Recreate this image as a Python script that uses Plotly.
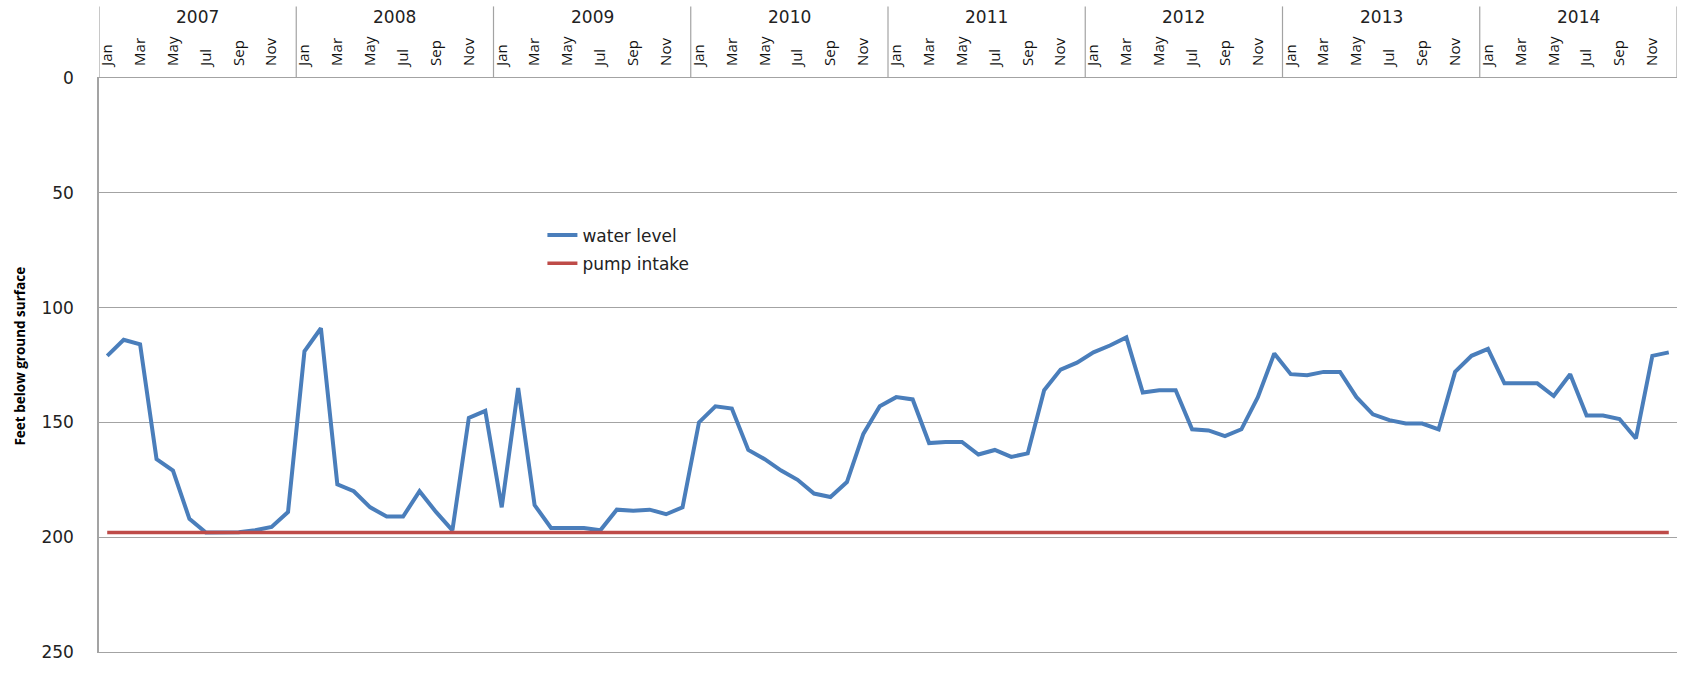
import plotly.graph_objects as go

# Monthly series, Jan 2007 - Dec 2014
years = ["2007", "2008", "2009", "2010", "2011", "2012", "2013", "2014"]
month_names = ["Jan", "Feb", "Mar", "Apr", "May", "Jun",
               "Jul", "Aug", "Sep", "Oct", "Nov", "Dec"]

# Depth to water, feet below ground surface
water_level = [
    121, 114, 116, 166, 171, 192, 198, 198, 197.8, 197, 195.5, 189,   # 2007
    119, 109, 177, 180, 187, 191, 191, 180, 189, 197, 148, 145,     # 2008
    187, 135, 186, 196, 196, 196, 197, 188, 188.5, 188, 190, 187,   # 2009
    150, 143, 144, 162, 166, 171, 175, 181, 182.5, 176, 155, 143,   # 2010
    139, 140, 159, 158.5, 158.5, 164, 162, 165, 163.5, 136, 127, 124,  # 2011
    119.5, 116.5, 113, 137, 136, 136, 153, 153.5, 156, 153, 139, 120,  # 2012
    129, 129.5, 128, 128, 139, 146.5, 149, 150.5, 150.5, 153, 128, 121,  # 2013
    118, 133, 133, 133, 138.5, 129, 147, 147, 148.5, 157, 121, 119.5,  # 2014
]
pump_intake = [198] * 96

x_idx = list(range(len(water_level)))
tick_idx = x_idx[::2]
tick_text = [month_names[i % 12] for i in tick_idx]

grid_col = "#a3a3a3"

fig = go.Figure()
fig.add_trace(go.Scatter(
    x=x_idx, y=water_level, mode="lines", name="water level",
    line=dict(color="#4a7ebb", width=4), legendgroup="a",
))
fig.add_trace(go.Scatter(
    x=x_idx, y=pump_intake, mode="lines", name="pump intake",
    line=dict(color="#be4b48", width=3.5), legendgroup="b",
))

# Year dividers in the header band above the plot
shapes = []
for k in range(len(years) + 1):
    shapes.append(dict(
        type="line", xref="x", yref="paper",
        x0=-0.5 + 12 * k, x1=-0.5 + 12 * k, y0=1, y1=1.1247,
        line=dict(color=grid_col, width=1.2),
    ))

annotations = []
for k, yr in enumerate(years):
    annotations.append(dict(
        x=5.5 + 12 * k, y=1.106, xref="x", yref="paper",
        text=yr, showarrow=False, xanchor="center", yanchor="middle",
        font=dict(family="DejaVu Sans", size=17, color="#222222"),
    ))
annotations.append(dict(
    x=-0.0502, y=0.516, xref="paper", yref="paper",
    text="<b>Feet below ground surface</b>", showarrow=False,
    textangle=-90, xanchor="center", yanchor="middle",
    font=dict(family="Open Sans", size=13.5, color="#000000"),
))

fig.update_layout(
    width=1688, height=673,
    margin=dict(l=99, r=11, t=78, b=12),
    paper_bgcolor="white", plot_bgcolor="white",
    shapes=shapes, annotations=annotations,
    legend=dict(
        x=0.281, y=0.757, xanchor="left", yanchor="top",
        bgcolor="rgba(0,0,0,0)", tracegroupgap=3,
        font=dict(family="DejaVu Sans", size=17, color="#222222"),
    ),
    xaxis=dict(
        range=[-0.5, 95.5], side="top",
        tickvals=tick_idx, ticktext=tick_text, tickangle=-90,
        tickfont=dict(family="Open Sans", size=15, color="#111111"),
        ticks="", ticklabelstandoff=8,
        showgrid=False, zeroline=False,
        showline=True, linecolor=grid_col, linewidth=1.2, mirror=True,
    ),
    yaxis=dict(
        range=[250, 0], tickvals=[0, 50, 100, 150, 200, 250],
        tickfont=dict(family="DejaVu Sans", size=17, color="#222222"),
        ticks="", ticklabelstandoff=20,
        showgrid=True, gridcolor=grid_col, gridwidth=1.2,
        zeroline=False, showline=True, linecolor=grid_col, linewidth=1.5,
    ),
)

fig.write_html("out.html")
